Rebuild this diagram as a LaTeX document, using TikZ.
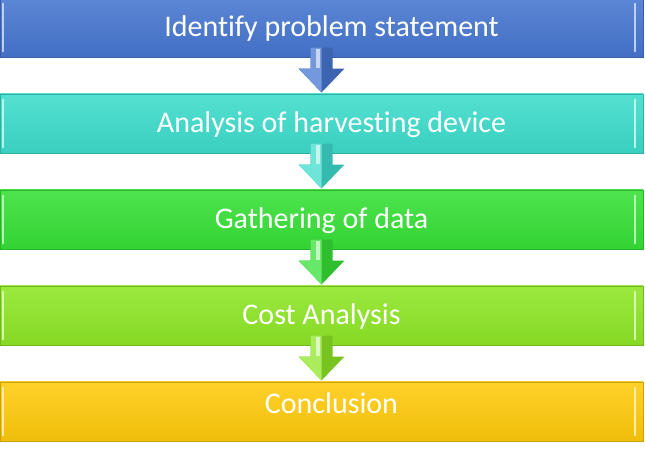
\documentclass[tikz,border=0pt]{standalone}
\usepackage{fontspec}
\setmainfont{Carlito}[Ligatures=NoCommon]
\usetikzlibrary{positioning,calc}
\definecolor{StageBlue}{HTML}{4676D0}
\definecolor{StageTeal}{HTML}{3DDCCB}
\definecolor{StageGreen}{HTML}{36E036}
\definecolor{StageLime}{HTML}{8EE626}
\definecolor{StageGold}{HTML}{FFCA0C}

\tikzset{
  stage/.style={minimum width=643pt,minimum height=59.5pt,inner sep=0pt,
    top color=#1!88!white,bottom color=#1!94!black,draw=#1!80!black,line width=0.5pt,
    text=white,font=\fontsize{30}{32}\selectfont,text height=18pt,text depth=0pt},
  padtext/.style={execute at begin node=\hspace*{20pt}},
  bevel/.style={line width=1.8pt,draw=#1!35!white,line cap=round},
  flowdark/.style={fill=#1!85!black},
  flowlight/.style={fill=#1!75!white},
}

% block arrow from the bar above to the bar below
\newcommand{\flowarrow}[3]{%
  \fill[flowdark=#3] ($(#1.south)+(-11,10)$) -- ($(#1.south)+(-11,-11)$) -- ($(#1.south)+(-23,-11)$)
    -- ($(#2.north)+(0,1)$) -- ($(#1.south)+(23,-11)$) -- ($(#1.south)+(11,-11)$)
    -- ($(#1.south)+(11,10)$) -- cycle;
  \fill[flowlight=#3] ($(#1.south)+(-11,10)$) -- ($(#1.south)+(-11,-11)$) -- ($(#1.south)+(-23,-11)$)
    -- ($(#2.north)+(0,1)$) -- ($(#1.south)+(0,-11)$) -- ($(#1.south)+(0,10)$) -- cycle;
  \fill[#3!30!white] ($(#1.south)+(-6,9)$) rectangle ($(#1.south)+(-2,-10)$);
}

\begin{document}
\begin{tikzpicture}[x=1pt,y=1pt]
  \useasboundingbox (0,0) rectangle (645,-461);

  \node[stage=StageBlue,padtext]  (identify) at (321.5,-27.5) {Identify problem statement};
  \node[stage=StageTeal,padtext]  (analysis) [below=36pt of identify] {Analysis of harvesting device};
  \node[stage=StageGreen] (gather)   [below=36pt of analysis] {Gathering of data};
  \node[stage=StageLime]  (cost)     [below=36pt of gather]   {Cost Analysis};
  \node[stage=StageGold,padtext,text height=12pt,text depth=9pt] (conclude) [below=36pt of cost] {Conclusion};

  \foreach \s/\c in {identify/StageBlue,analysis/StageTeal,gather/StageGreen,cost/StageLime,conclude/StageGold}{
    \draw[bevel=\c] ($(\s.north west)+(3.5,-6)$) -- ($(\s.south west)+(3.5,6)$);
    \draw[bevel=\c] ($(\s.north east)+(-8,-6)$) -- ($(\s.south east)+(-8,6)$);
  }

  \flowarrow{identify}{analysis}{StageBlue}
  \flowarrow{analysis}{gather}{StageTeal}
  \flowarrow{gather}{cost}{StageGreen}
  \flowarrow{cost}{conclude}{StageLime}
\end{tikzpicture}
\end{document}
